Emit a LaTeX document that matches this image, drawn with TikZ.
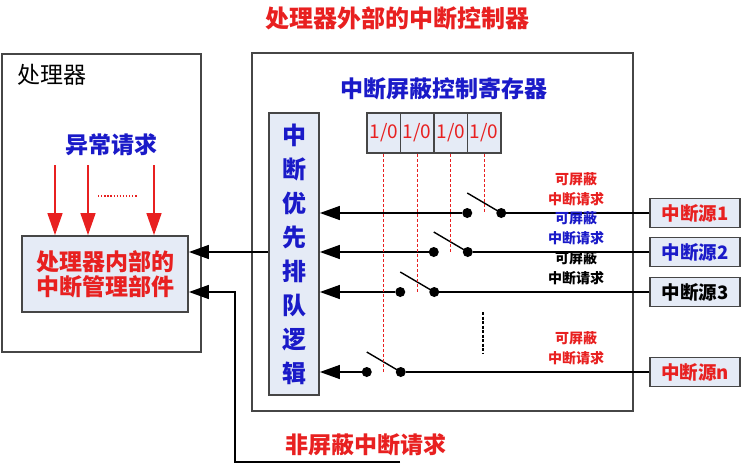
\documentclass[tikz,border=0pt]{standalone}
\usepackage{fontspec}
\setmainfont{Noto Sans CJK SC}
\usetikzlibrary{arrows.meta, calc, positioning}
\definecolor{myred}{RGB}{232, 32, 32}
\definecolor{myblue}{RGB}{26, 26, 200}
\definecolor{mygray1}{RGB}{229, 235, 246}
\definecolor{mygray2}{RGB}{70, 70, 70}
\tikzset{>={Triangle[length=20pt, width=14pt]}}

\begin{document}
\begin{tikzpicture}[
    x = 1pt, y = -1pt,
    frame/.style = {draw = mygray2, line width = 1.6pt},
    box/.style = {draw = mygray2, line width = 1.8pt, fill = mygray1, inner sep = 0pt},
    src/.style = {box, minimum width = 90pt, minimum height = 29pt, font = \fontsize{18.5}{18}\selectfont\bfseries},
    dot/.style = {circle, fill, inner sep = 0pt, minimum size = 10pt},
    wire/.style = {line width = 1.4pt},
    mask/.style = {myred, line width = 0.9pt, dash pattern = on 3pt off 2pt},
    lbl/.style = {font = \fontsize{14}{20}\selectfont\bfseries, align = center},
    big/.style = {font = \fontsize{23}{26}\selectfont\bfseries}
]
\useasboundingbox (0,0) rectangle (741,466);

% frames
\draw[frame] (2,54) rectangle (201,352);
\draw[frame] (252,53) rectangle (633,411);
\node[big, text = myred, font = \fontsize{24}{26}\selectfont\bfseries] (title) at (397,18) {处理器外部的中断控制器};
\node[font = \fontsize{23}{26}\selectfont, anchor = west] (cpu) at (14,75) {处理器};

% processor side
\node[big, text = myblue] (exc) at (111,145) {异常请求};
\node[box, big, text = myred, align = center, minimum width = 166pt, minimum height = 76pt] (core) at (105,274) {处理器内部的\\[-1pt]中断管理部件};
\foreach \x [count = \i] in {55, 88, 154}{
    \coordinate (e\i) at (\x,165);
    \draw[myred, line width = 1.4pt, -{Triangle[length=22pt, width=15pt]}] (e\i) -- (e\i |- core.north);
}
\coordinate (d1) at (98,196);
\coordinate (d2) at (137,196);
\draw[myred, line width = 1.3pt, dash pattern = on 1.3pt off 1.8pt] (d1) -- (d2);

% controller side
\node[big, text = myblue] (reg) at (444,89) {中断屏蔽控制寄存器};
\node[box, text = myblue, align = center, minimum width = 50pt, minimum height = 282pt, font = \fontsize{24}{34}\selectfont\bfseries] (logic) at (294,254) {中\\断\\优\\先\\排\\队\\逻\\辑};
\foreach \i in {1,...,4}
    \node[box, text = myred, minimum width = 33.5pt, minimum height = 40pt, font = \fontsize{19}{19}\selectfont] (c\i) at ({367+33.5*(\i-0.5)}, 133) {1/0};

\foreach \y/\c/\s/\col in {213/4/1/myred, 252/3/2/myblue, 292/2/3/black, 372/1/n/myred}{
    \node[src, text = \col] (s\s) at (695,\y) {中断源\s};
    \node[dot] (r\s) at ($(c\c.center |- s\s)+(17,0)$) {};
    \node[dot] (l\s) at ($(c\c.center |- s\s)+(-17,0)$) {};
    \coordinate (b\s) at ($(l\s)+(0,-20)$);
    \draw[wire] (s\s) -- (r\s);
    \draw[wire] (b\s) -- (r\s.center);
    \draw[wire, ->] (l\s) -- (l\s -| logic.east);
    \draw[mask] (c\c.south) -- (c\c.center |- s\s);
    \node[lbl, text = \col] (m\s) at ($(s\s.west)+(-73,-24)$) {可屏蔽\\中断请求};
}
\coordinate (v1) at (483,312);
\coordinate (v2) at (483,353);
\draw[line width = 1.5pt, dash pattern = on 3pt off 1.5pt] (v1) -- (v2);

% to the processor
\coordinate (a1) at ($(core.east)+(0,-22)$);
\coordinate (a2) at ($(core.east)+(0,18)$);
\coordinate (nmk) at ($(a2)+(46,0)$);
\coordinate (nmend) at (400,462);
\draw[wire, ->] (logic.west |- a1) -- (a1);
\draw[wire, ->] (nmend) -| (nmk) -- (a2);
\node[big, text = myred] (nmi) at (366,445) {非屏蔽中断请求};
\end{tikzpicture}
\end{document}
